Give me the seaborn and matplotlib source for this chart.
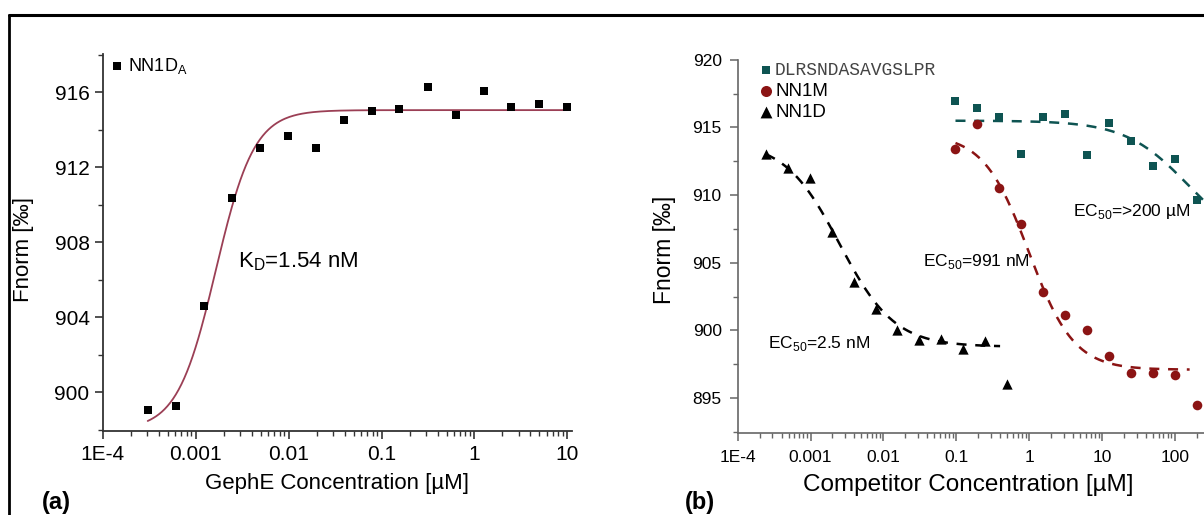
"""
MST binding (a) and competition (b) curves.
"""

import numpy as np
import pandas as pd
import matplotlib.pyplot as plt
import seaborn as sns
from matplotlib.lines import Line2D
from matplotlib.ticker import FixedLocator, FixedFormatter, MultipleLocator, LogLocator, NullFormatter

# ── data ───────────────────────────────────────────────────────────────────
# (a) GephE titration against NN1D_A
GEPHE_CONC = [0.000305, 0.00061, 0.00122, 0.00244, 0.00488, 0.00977, 0.0195, 0.039,
              0.078, 0.156, 0.3125, 0.625, 1.25, 2.5, 5.0, 10.0]
NN1DA_FNORM = [899.06, 899.25, 904.62, 910.37, 913.03, 913.68, 913.03, 914.50,
               914.99, 915.10, 916.27, 914.80, 916.07, 915.20, 915.36, 915.24]
# fit parameters (bottom, top, K, hill)
FIT_A = (898.0, 915.05, 0.00165, 2.1)

# (b) competition
NN1D_CONC = [0.000244, 0.000488, 0.000977, 0.00195, 0.0039, 0.0078, 0.0156,
             0.03125, 0.0625, 0.125, 0.25, 0.5]
NN1D_FNORM = [913.03, 912.02, 911.28, 907.28, 903.57, 901.58, 900.06,
              899.27, 899.37, 898.66, 899.25, 896.06]

COMP_CONC = [0.0977, 0.195, 0.39, 0.78, 1.5625, 3.125, 6.25, 12.5, 25.0, 50.0, 100.0, 200.0]
NN1M_FNORM = [913.39, 915.28, 910.55, 907.84, 902.83, 901.11, 900.06,
              898.09, 896.82, 896.82, 896.70, 894.46]
PEPT_FNORM = [916.98, 916.46, 915.78, 913.05, 915.80, 916.02, 912.98,
              915.36, 913.96, 912.17, 912.68, 909.64]

# fit parameters (bottom, top, EC50, hill, x range)
FIT_NN1D = (898.8, 914.0, 0.0025, 1.15, (0.000244, 0.40))
FIT_NN1M = (897.1, 914.5, 0.991, 1.4, (0.0977, 160.0))
FIT_PEPT = (905.95, 915.5, 154.0, 1.0, (0.0977, 260.0))

PEPTIDE = "DLRSNDASAVGSLPR"

TICKS_A = [1e-4, 1e-3, 1e-2, 1e-1, 1, 10]
TICKLABELS_A = ["1E-4", "0.001", "0.01", "0.1", "1", "10"]
TICKS_B = [1e-4, 1e-3, 1e-2, 1e-1, 1, 10, 100]
TICKLABELS_B = ["1E-4", "0.001", "0.01", "0.1", "1", "10", "100"]

TEAL = "#0E5452"
RED = "#8B1414"
FIT_A_COLOR = "#9B3F55"


def hill_up(x, b, t, k, n):
    return b + (t - b) * x**n / (x**n + k**n)


def hill_down(x, b, t, k, n):
    return b + (t - b) / (1 + (x / k) ** n)


def fit_frame(fn, params, lo, hi):
    xs = np.logspace(np.log10(lo), np.log10(hi), 300)
    return pd.DataFrame({"x": xs, "y": fn(xs, *params)})


sns.set_theme(style="ticks")
plt.rcParams["font.family"] = ["Liberation Sans", "DejaVu Sans"]
plt.rcParams.update({
    "text.color": "black",
    "axes.labelcolor": "black",
    "xtick.labelcolor": "black",
    "ytick.labelcolor": "black",
})

fig = plt.figure(figsize=(12.04, 5.15), dpi=100)

# ── (a) ─────────────────────────────────────────────────────────────────────
ax = fig.add_axes([0.0853, 0.1637, 0.3895, 0.7314])
b, t, k, n = FIT_A
curve = fit_frame(hill_up, (b, t, k, n), GEPHE_CONC[0], GEPHE_CONC[-1])
sns.lineplot(data=curve, x="x", y="y", ax=ax, color=FIT_A_COLOR, lw=1.3)
df_a = pd.DataFrame({"x": GEPHE_CONC, "y": NN1DA_FNORM})
sns.scatterplot(data=df_a, x="x", y="y", ax=ax, marker="s", s=40, color="black",
                linewidth=0, label="NN1D$_\\mathregular{A}$", zorder=3)

ax.set_xscale("log")
ax.set_xlim(1e-4, 11.1)
ax.set_ylim(897.96, 918.04)
ax.xaxis.set_major_locator(FixedLocator(TICKS_A))
ax.xaxis.set_major_formatter(FixedFormatter(TICKLABELS_A))
ax.xaxis.set_minor_locator(LogLocator(base=10, subs=np.arange(2, 10), numticks=20))
ax.xaxis.set_minor_formatter(NullFormatter())
ax.yaxis.set_major_locator(MultipleLocator(4))
ax.yaxis.set_minor_locator(MultipleLocator(2))
ax.tick_params(which="major", length=6, width=1.2, labelsize=15, color="#333333")
ax.tick_params(axis="x", which="major", pad=4.5)
ax.tick_params(axis="y", which="major", pad=3.5)
ax.tick_params(which="minor", length=3.5, width=1.0, color="#333333")
for s in ["left", "bottom"]:
    ax.spines[s].set_linewidth(1.3)
    ax.spines[s].set_color("#333333")
sns.despine(ax=ax)

ax.set_xlabel("GephE Concentration [µM]", fontsize=16)
ax.set_ylabel("Fnorm [‰]", fontsize=16)
ax.xaxis.set_label_coords(0.50, -0.139)
ax.xaxis.label.set_va("center")
ax.yaxis.set_label_coords(-0.168, 0.48)
ax.yaxis.label.set_va("center")

ax.text(0.00283, 906.97, "K$_\\mathregular{D}$=1.54 nM", fontsize=16, va="center", ha="left")

leg = ax.legend(loc="upper left", bbox_to_anchor=(0.015, 0.995), frameon=False,
                fontsize=13, handlelength=0.8, handletextpad=0.2, borderpad=0,
                borderaxespad=0)

# ── (b) ─────────────────────────────────────────────────────────────────────
bx = fig.add_axes([0.6127, 0.1586, 0.3873, 0.7254])

for fit, color in [(FIT_NN1D, "black"), (FIT_NN1M, RED), (FIT_PEPT, TEAL)]:
    b, t, k, n, (lo, hi) = fit
    curve = fit_frame(hill_down, (b, t, k, n), lo, hi)
    sns.lineplot(data=curve, x="x", y="y", ax=bx, color=color, lw=1.8,
                 dashes=False, linestyle=(0, (4, 3.5)))

df_pept = pd.DataFrame({"x": COMP_CONC, "y": PEPT_FNORM})
df_nn1m = pd.DataFrame({"x": COMP_CONC, "y": NN1M_FNORM})
df_nn1d = pd.DataFrame({"x": NN1D_CONC, "y": NN1D_FNORM})
sns.scatterplot(data=df_pept, x="x", y="y", ax=bx, marker="s", s=30, color=TEAL,
                linewidth=0, label=PEPTIDE, zorder=3)
sns.scatterplot(data=df_nn1m, x="x", y="y", ax=bx, marker="o", s=48, color=RED,
                linewidth=0, label="NN1M", zorder=3)
sns.scatterplot(data=df_nn1d, x="x", y="y", ax=bx, marker="^", s=55, color="black",
                linewidth=0, label="NN1D", zorder=3)

bx.set_xscale("log")
bx.set_xlim(1e-4, 252)
bx.set_ylim(892.4, 920)
bx.xaxis.set_major_locator(FixedLocator(TICKS_B))
bx.xaxis.set_major_formatter(FixedFormatter(TICKLABELS_B))
bx.xaxis.set_minor_locator(LogLocator(base=10, subs=np.arange(2, 10), numticks=20))
bx.xaxis.set_minor_formatter(NullFormatter())
bx.yaxis.set_major_locator(MultipleLocator(5))
bx.yaxis.set_minor_locator(MultipleLocator(2.5))
bx.tick_params(which="major", length=6, width=1.1, labelsize=12.5, color="#666666")
bx.tick_params(axis="x", which="major", pad=6)
bx.tick_params(axis="y", which="major", pad=5.5)
bx.tick_params(which="minor", length=3.5, width=1.0, color="#666666")
for s in ["left", "bottom"]:
    bx.spines[s].set_linewidth(1.2)
    bx.spines[s].set_color("#666666")
sns.despine(ax=bx)

bx.set_xlabel("Competitor Concentration [µM]", fontsize=17.5)
bx.set_ylabel("Fnorm [‰]", fontsize=16.5)
bx.xaxis.set_label_coords(0.494, -0.138)
bx.xaxis.label.set_va("center")
bx.yaxis.set_label_coords(-0.158, 0.491)
bx.yaxis.label.set_va("center")

bx.text(0.000263, 899.04, "EC$_\\mathregular{50}$=2.5 nM", fontsize=12.5, va="center", ha="left")
bx.text(0.0347, 905.07, "EC$_\\mathregular{50}$=991 nM", fontsize=12.5, va="center", ha="left")
bx.text(3.98, 908.77, "EC$_\\mathregular{50}$=>200 µM", fontsize=12.5, va="center", ha="left")

leg_b = bx.legend(loc="upper left", bbox_to_anchor=(0.048, 0.995), frameon=False,
                  fontsize=13.5, handlelength=0.6, handletextpad=0.2, borderpad=0,
                  borderaxespad=0, labelspacing=0.22, markerscale=1.15)
for txt in leg_b.get_texts():
    if txt.get_text() == PEPTIDE:
        txt.set_fontfamily("Liberation Mono")
        txt.set_color("#444444")
        txt.set_fontsize(13)

# panel letters and frame
fig.text(56 / 1204, 1 - 502 / 515, "(a)", fontsize=17, fontweight="bold", ha="center", va="center")
fig.text(700 / 1204, 1 - 502 / 515, "(b)", fontsize=17, fontweight="bold", ha="center", va="center")
fig.add_artist(Line2D([9 / 1204, 1.0], [1 - 15 / 515, 1 - 15 / 515], color="black", lw=2.2,
                      transform=fig.transFigure))
fig.add_artist(Line2D([9 / 1204, 9 / 1204], [0, 1 - 15 / 515], color="black", lw=2.0,
                      transform=fig.transFigure))

fig.savefig("out.png", dpi=100)
